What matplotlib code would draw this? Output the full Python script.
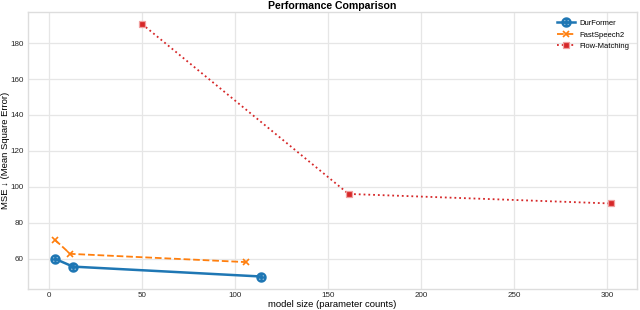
import matplotlib
matplotlib.use("Agg")
import matplotlib.pyplot as plt

# model size (parameter counts) and MSE for each model
durformer_x = [3.2, 12.8, 114]
durformer_y = [60.0, 55.7, 50.2]
fastspeech_x = [3.2, 11.3, 106]
fastspeech_y = [70.5, 62.8, 58.2]
flow_x = [50, 161, 302]
flow_y = [190.5, 96.1, 90.8]

plt.rcParams['font.family'] = ['Liberation Sans', 'DejaVu Sans']

fig = plt.figure(figsize=(6.4, 3.1), dpi=100)
ax = fig.add_axes([0.044, 0.068, 0.951, 0.893])

ax.plot(durformer_x, durformer_y, color='#1f77b4', lw=1.8, ls='-',
        marker=r'$\oplus$', ms=6.5, label='DurFormer')
ax.plot(fastspeech_x, fastspeech_y, color='#ff7f0e', lw=1.3, ls='--',
        marker='x', ms=5, mew=1.2, label='FastSpeech2')
ax.plot(flow_x, flow_y, color='#d62728', lw=1.3, ls=':',
        marker='s', ms=4.5, mfc='#d62728', mec='#f0a0a0', mew=0.9,
        label='Flow-Matching')

ax.set_xlim(-11.3, 316)
ax.set_ylim(43.3, 197.2)
ax.set_xticks([0, 50, 100, 150, 200, 250, 300])
ax.set_yticks([60, 80, 100, 120, 140, 160, 180])

ax.grid(True, color='#e6e6e6', lw=0.9)
ax.set_axisbelow(True)
for s in ax.spines.values():
    s.set_color('#dddddd')
    s.set_linewidth(1.0)
ax.tick_params(length=0, labelsize=5.8, colors='#262626')
ax.tick_params(axis='x', pad=2)
ax.tick_params(axis='y', pad=3)

ax.set_title('Performance Comparison', fontsize=7.6, fontweight='bold', pad=2)
ax.set_xlabel('model size (parameter counts)', fontsize=6.8, labelpad=1)
ax.set_ylabel('MSE \u2193 (Mean Square Error)', fontsize=6.8)
ax.yaxis.set_label_coords(-0.030, 0.5)

ax.legend(loc='upper right', fontsize=5.5, frameon=False, handlelength=2.4,
          borderaxespad=0.6, labelspacing=0.55, handletextpad=0.5)

fig.savefig('out.png', dpi=100)
